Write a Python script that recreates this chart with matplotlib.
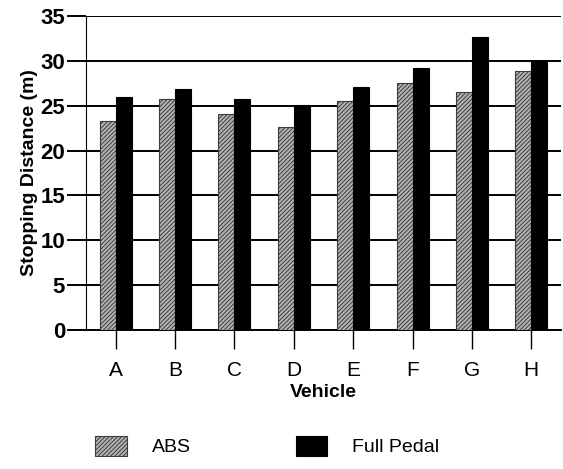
import numpy as np
import matplotlib
matplotlib.use("Agg")
from matplotlib import pyplot as plt

plt.rcParams['font.family'] = ['Liberation Sans', 'DejaVu Sans']
plt.rcParams['hatch.linewidth'] = 0.7

vehicles = ['A', 'B', 'C', 'D', 'E', 'F', 'G', 'H']
abs_dist = [23.3, 25.7, 24.1, 22.6, 25.5, 27.5, 26.5, 28.9]
full_pedal = [26.0, 26.9, 25.8, 25.1, 27.1, 29.2, 32.7, 30.0]
yticks = [0, 5, 10, 15, 20, 25, 30, 35]

fig = plt.figure(figsize=(5.63, 4.69), dpi=100)
ax = fig.add_axes([0.1528, 0.2964, 0.8436, 0.6695])

x = np.arange(len(vehicles))
w = 0.27
ax.bar(x - w/2, abs_dist, w, facecolor='#b4b4b4', edgecolor='#3c3c3c',
       hatch='////////', linewidth=0.8, label='ABS', zorder=3)
ax.bar(x + w/2, full_pedal, w, facecolor='black', edgecolor='black',
       linewidth=0.8, label='Full Pedal', zorder=3)

ax.set_xlim(-0.5, 7.5)
ax.set_ylim(0, 35)
ax.set_yticks(yticks)
ax.set_xticks(x)
ax.set_xticklabels(vehicles)
ax.yaxis.grid(True, color='black', linewidth=1.4, zorder=0)
ax.set_axisbelow(True)
for s in ['top', 'right']:
    ax.spines[s].set_visible(False)
ax.spines['left'].set_linewidth(0.8)
ax.spines['bottom'].set_linewidth(1.4)
ax.tick_params(axis='y', length=14, width=1.4, labelsize=16, pad=1)
ax.tick_params(axis='x', length=14, width=1.0, labelsize=15, pad=8)
for t in ax.get_yticklabels():
    t.set_fontweight('bold')

ax.set_ylabel('Stopping Distance (m)', fontsize=14, fontweight='bold', labelpad=2)
ax.set_xlabel('Vehicle', fontsize=14, fontweight='bold', labelpad=3)

fig.legend(loc='center', bbox_to_anchor=(0.475, 0.049), ncol=2, frameon=False,
           fontsize=14, handlelength=1.6, handleheight=1.2, handletextpad=1.3,
           columnspacing=5.4)

fig.savefig('out.png', dpi=100)
